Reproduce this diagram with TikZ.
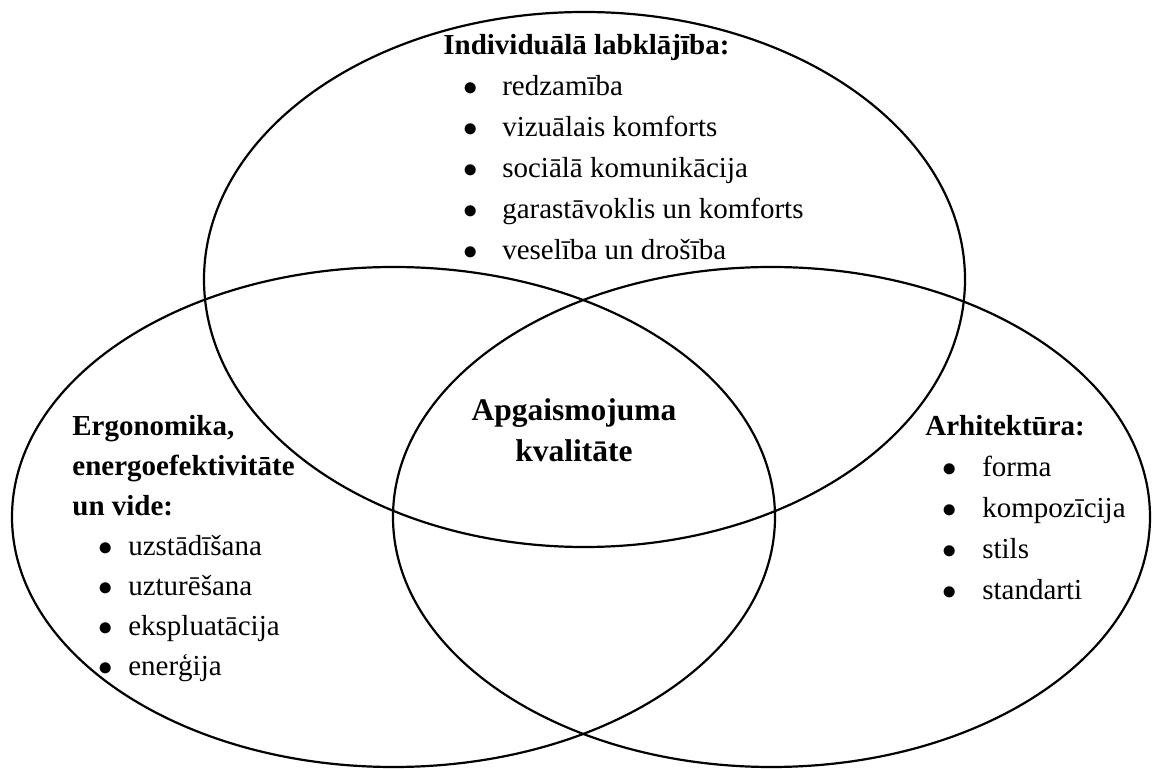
\documentclass[tikz,border=0pt]{standalone}
\usepackage{fontspec}
\setmainfont{Liberation Serif}

\tikzset{
  venn/.style={line width=1.1pt},
  txt/.style={inner sep=0pt, anchor=base west, font=\fontsize{14.5pt}{20.5pt}\selectfont},
}

\begin{document}
\begin{tikzpicture}[x=0.5pt,y=-0.5pt]
			\useasboundingbox (0,0) rectangle (1152,769);
			% three circles of the diagram
			\draw [venn] (584.5,279.5) ellipse [x radius=190.25pt, y radius=133.75pt];
			\draw [venn] (393.5,517) ellipse [x radius=190.75pt, y radius=125pt];
			\draw [venn] (771.5,517) ellipse [x radius=189.25pt, y radius=125pt];
			% texts
			\node (wellbeing) [txt] at (443,55) {\begin{tabular}[t]{@{\hspace{9.9pt}}c@{\hspace{12.35pt}}l@{}} \multicolumn{2}{@{}l@{}}{\textbf{Individuālā labklājība:}} \\ $\bullet$ & redzamība \\ $\bullet$ & vizuālais komforts \\ $\bullet$ & sociālā komunikācija \\ $\bullet$ & garastāvoklis un komforts \\ $\bullet$ & veselība un drošība \end{tabular}};
			\node (ergonomics) [txt,font=\fontsize{14.5pt}{20pt}\selectfont] at (72,436) {\begin{tabular}[t]{@{\hspace{12.9pt}}c@{\hspace{7.85pt}}l@{}} \multicolumn{2}{@{}l@{}}{\textbf{Ergonomika,}} \\ \multicolumn{2}{@{}l@{}}{\textbf{energoefektivitāte}} \\ \multicolumn{2}{@{}l@{}}{\textbf{un vide:}} \\ $\bullet$ & uzstādīšana \\ $\bullet$ & uzturēšana \\ $\bullet$ & ekspluatācija \\ $\bullet$ & enerģija \end{tabular}};
			\node (architecture) [txt] at (925,436) {\begin{tabular}[t]{@{\hspace{8.4pt}}c@{\hspace{12.85pt}}l@{}} \multicolumn{2}{@{}l@{}}{\textbf{Arhitektūra:}} \\ $\bullet$ & forma \\ $\bullet$ & kompozīcija \\ $\bullet$ & stils \\ $\bullet$ & standarti \end{tabular}};
			\node (quality) [inner sep=0pt,anchor=base,font=\fontsize{15.75pt}{20.5pt}\selectfont\bfseries] at (574,421) {\begin{tabular}[t]{@{}c@{}} Apgaismojuma \\ kvalitāte \end{tabular}};
		\end{tikzpicture}
\end{document}
